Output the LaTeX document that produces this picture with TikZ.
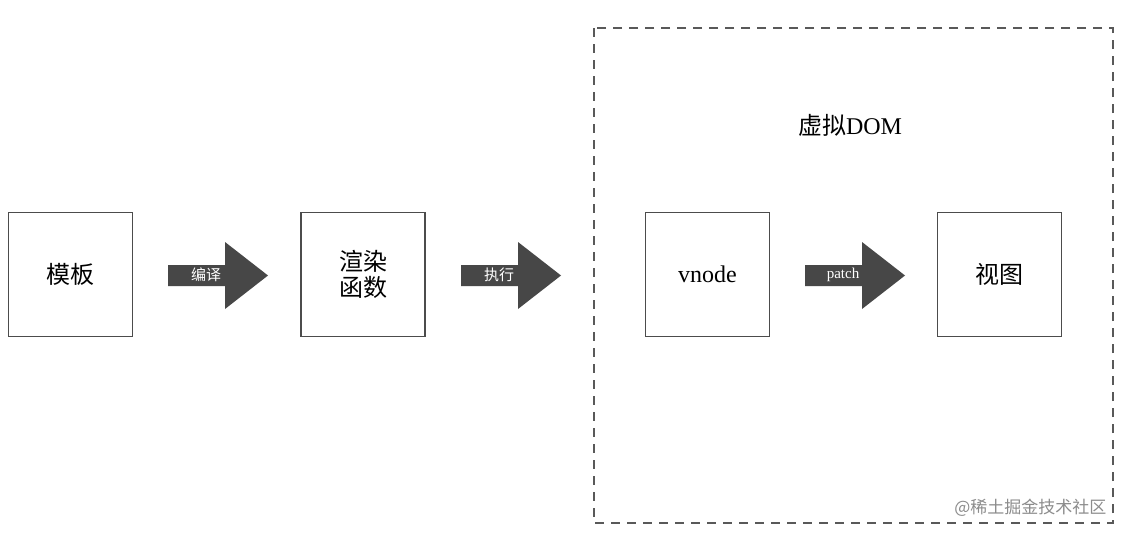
\documentclass[tikz,border=0pt]{standalone}
\usepackage{fontspec}
\setmainfont{Liberation Serif}
\newfontfamily\cjk{Noto Sans CJK SC}
\begin{document}
\begin{tikzpicture}[x=1pt,y=-1pt,
  box/.style={draw=black!70,line width=1.6pt,minimum width=124pt,minimum height=124pt,inner sep=0pt,font=\fontsize{24}{28}\selectfont},
  fat/.style={fill=black!72,draw=none},
  alab/.style={text=white,font=\fontsize{15}{17}\selectfont,inner sep=0pt}]
\useasboundingbox (0,0) rectangle (1126,536);
\fill[white] (0,0) rectangle (1126,536);
\draw[black!65,line width=1.6pt,dash pattern=on 9pt off 7pt] (594,28) rectangle (1113,523);
\node[font=\cjk\fontsize{24}{28}\selectfont] (title) at (850,125) {虚拟{\rmfamily DOM}};
\node[box] (a) at (70.5,274.5) {\cjk 模板};
\node[box,align=center] (b) at (363,274.5) {\cjk 渲染\\[-2pt]\cjk 函数};
\node[box] (c) at (707.5,274.5) {vnode};
\node[box] (d) at (999.5,274.5) {\cjk 视图};
\foreach \s/\l/\f in {168/编译/\cjk,461/执行/\cjk,805/patch/\rmfamily}{
  \fill[black!72] (\s,265) -- (\s+57,265) -- (\s+57,242) -- (\s+100,275.5) -- (\s+57,309) -- (\s+57,286) -- (\s,286) -- cycle;
  \node[alab,font=\f\fontsize{15}{17}\selectfont] at (\s+38,275) {\l};
}
\node[text=black!45,font=\cjk\fontsize{17}{20}\selectfont,anchor=east] (wm) at (1110,508) {@稀土掘金技术社区};
\end{tikzpicture}
\end{document}
